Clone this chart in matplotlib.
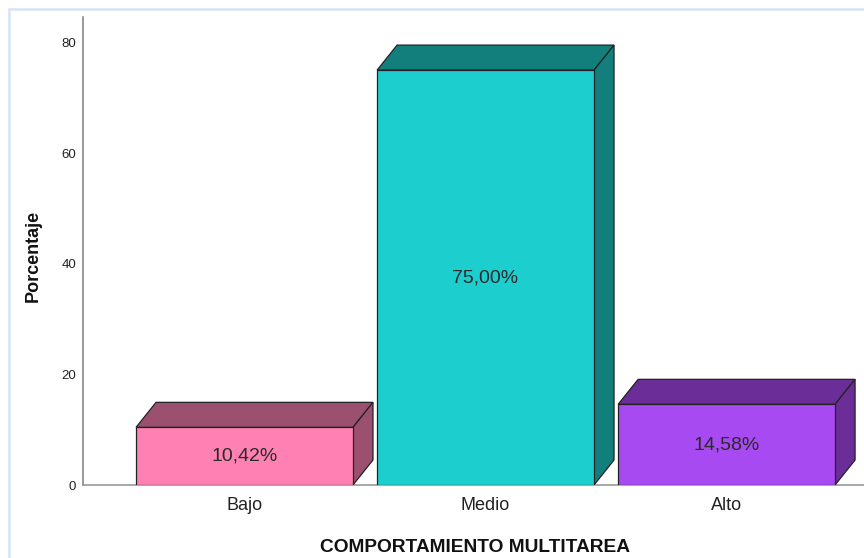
import matplotlib
matplotlib.use("Agg")
import matplotlib.pyplot as plt
from matplotlib.patches import Polygon, Rectangle

plt.rcParams['font.family'] = ['Liberation Sans', 'DejaVu Sans']

categorias = ["Bajo", "Medio", "Alto"]
porcentajes = [10.42, 75.00, 14.58]
etiquetas = ["10,42%", "75,00%", "14,58%"]
y_ticks = [0, 20, 40, 60, 80]

color_frente = ["#FF80B2", "#1DCECE", "#A84AF2"]
color_lado = ["#9B5070", "#127F7C", "#6B2E98"]

fig = plt.figure(figsize=(8.64, 5.58), dpi=100)
ax = fig.add_axes([83 / 864, 73 / 558, 1 - 83 / 864, 468 / 558])

# marco celeste del visor
fig.patches.append(Rectangle((9 / 864, -0.5), 2, 1.5 - 9 / 558, transform=fig.transFigure,
                             fill=False, edgecolor="#D6E2F6", linewidth=1.8))

ancho = 0.9
dx = 20 / 241       # profundidad en unidades x
dy = 25 / 5.53      # profundidad en unidades y

x = list(range(len(categorias)))
for i, v in enumerate(porcentajes):
    l = x[i] - ancho / 2
    r = x[i] + ancho / 2
    # cara superior
    ax.add_patch(Polygon([(l, v), (r, v), (r + dx, v + dy), (l + dx, v + dy)],
                         closed=True, facecolor=color_lado[i], edgecolor="#222222",
                         linewidth=0.9, zorder=2))
    # cara lateral
    ax.add_patch(Polygon([(r, 0), (r, v), (r + dx, v + dy), (r + dx, dy)],
                         closed=True, facecolor=color_lado[i], edgecolor="#222222",
                         linewidth=0.9, zorder=2))

ax.bar(x, porcentajes, width=ancho, color=color_frente, edgecolor="#222222",
       linewidth=0.9, zorder=3)

for i, v in enumerate(porcentajes):
    ax.text(x[i], v / 2, etiquetas[i], ha="center", va="center", fontsize=14,
            color="#2a2a2a", zorder=4)

ax.set_xlim(-0.67, 2.57)
ax.set_ylim(0, 84.6)
ax.set_yticks(y_ticks)
ax.set_xticks(x)
ax.set_xticklabels(categorias, fontsize=13, color="#222222")
ax.tick_params(axis="y", length=0, pad=5, labelsize=9.5, labelcolor="#222222")
ax.tick_params(axis="x", length=0, pad=9)

for s in ["top", "right"]:
    ax.spines[s].set_visible(False)
ax.spines["left"].set_color("#888888")
ax.spines["bottom"].set_color("#999999")
ax.spines["left"].set_linewidth(1.2)
ax.spines["bottom"].set_linewidth(1.2)

fig.text(33 / 864, 1 - 256 / 558, "Porcentaje", rotation=90, ha="center", va="center",
         fontsize=13, fontweight="bold", color="#111111")
fig.text(475 / 864, 1 - 548 / 558, "COMPORTAMIENTO MULTITAREA", ha="center", va="center",
         fontsize=13.8, fontweight="bold", color="#111111")

fig.savefig("out.png", dpi=100)
